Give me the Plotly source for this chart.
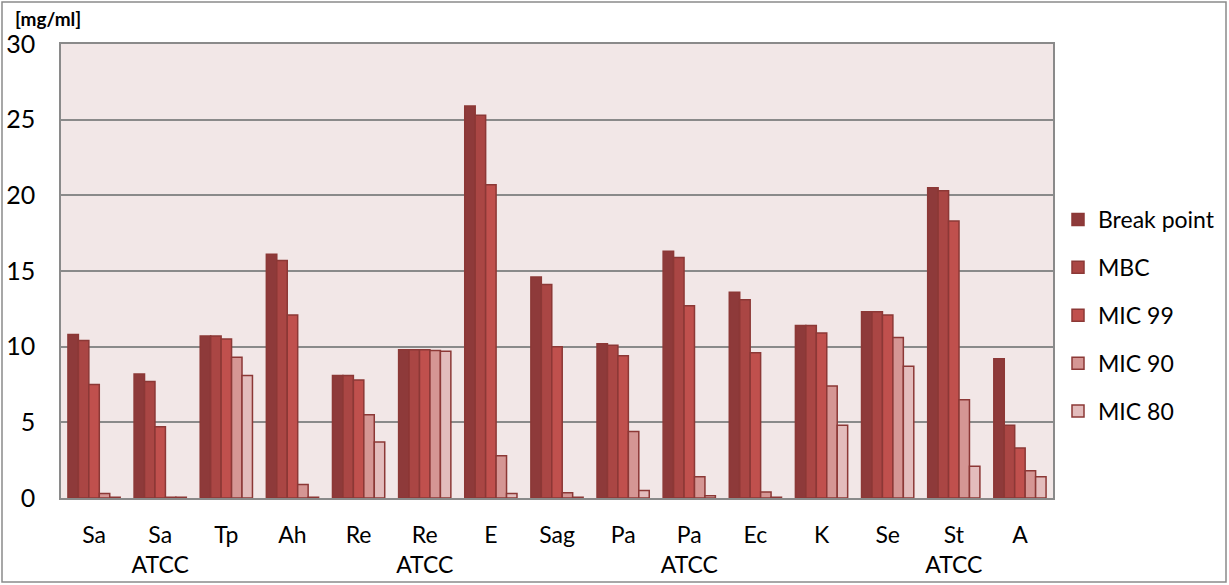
import plotly.graph_objects as go

categories = ["Sa", "Sa<br>ATCC", "Tp", "Ah", "Re", "Re<br>ATCC", "E", "Sag", "Pa", "Pa<br>ATCC",
              "Ec", "K", "Se", "St<br>ATCC", "A"]
break_point = [10.8, 8.2, 10.7, 16.1, 8.1, 9.8, 25.9, 14.6, 10.2, 16.3, 13.6, 11.4, 12.3, 20.5, 9.2]
mbc         = [10.4, 7.7, 10.7, 15.7, 8.1, 9.8, 25.3, 14.1, 10.1, 15.9, 13.1, 11.4, 12.3, 20.3, 4.8]
mic99       = [7.5, 4.7, 10.5, 12.1, 7.8, 9.8, 20.7, 10.0, 9.4, 12.7, 9.6, 10.9, 12.1, 18.3, 3.3]
mic90       = [0.3, 0.05, 9.3, 0.9, 5.5, 9.75, 2.8, 0.35, 4.4, 1.4, 0.4, 7.4, 10.6, 6.5, 1.8]
mic80       = [0.05, 0.05, 8.1, 0.05, 3.7, 9.7, 0.3, 0.05, 0.5, 0.15, 0.05, 4.8, 8.7, 2.1, 1.4]

series = [("Break point", break_point, "#8E3A3A"),
          ("MBC", mbc, "#AA4644"),
          ("MIC 99", mic99, "#C0504D"),
          ("MIC 90", mic90, "#D59694"),
          ("MIC 80", mic80, "#E3BCBC")]

FONT = "Lato"
fig = go.Figure()
for i, (name, vals, col) in enumerate(series):
    fig.add_trace(go.Bar(
        x=categories, y=vals, name=name, legendgroup=name,
        marker=dict(color=col, line=dict(color="#8C3836", width=1.5)),
    ))

W, H = 1229, 585
L, R, T, B = 61, 176, 44, 87
pw, ph = W - L - R, H - T - B

def px_x(p):
    return (p - L) / pw

def px_y(p):
    return (H - B - p) / ph

fig.update_layout(
    width=W, height=H,
    margin=dict(l=L, r=R, t=T, b=B, autoexpand=False),
    paper_bgcolor="white",
    plot_bgcolor="#F2E7E7",
    barmode="group", bargap=0.21, bargroupgap=0,
    font=dict(family=FONT, size=22, color="black"),
    legend=dict(x=px_x(1058), y=px_y(198), xanchor="left", yanchor="top",
                font=dict(size=23), tracegroupgap=15, bgcolor="rgba(0,0,0,0)"),
    xaxis=dict(showgrid=False, showline=True, linecolor="#8a8a8a", linewidth=1.5,
               mirror=True, ticks="", ticklabelstandoff=16, tickfont=dict(size=23),
               automargin=False),
    yaxis=dict(range=[0, 30], dtick=5, showgrid=True, gridcolor="#8a8a8a", gridwidth=2,
               showline=True, linecolor="#8a8a8a", linewidth=1.5, mirror=True,
               ticks="", ticklabelstandoff=19, tickfont=dict(size=25), zeroline=False,
               automargin=False),
    annotations=[dict(text="<b>[mg/ml]</b>", x=px_x(13), y=px_y(19), xref="paper", yref="paper",
                      xanchor="left", yanchor="middle", showarrow=False,
                      font=dict(size=19, family=FONT))],
    shapes=[dict(type="rect", xref="paper", yref="paper",
                 x0=px_x(2), x1=px_x(1226), y0=px_y(582), y1=px_y(2),
                 line=dict(color="#8a8a8a", width=1.5), fillcolor="rgba(0,0,0,0)", layer="below")],
)

fig.write_html("out.html", config={"displayModeBar": False},
               post_script="document.body.style.margin='0';document.body.style.overflow='hidden';")
